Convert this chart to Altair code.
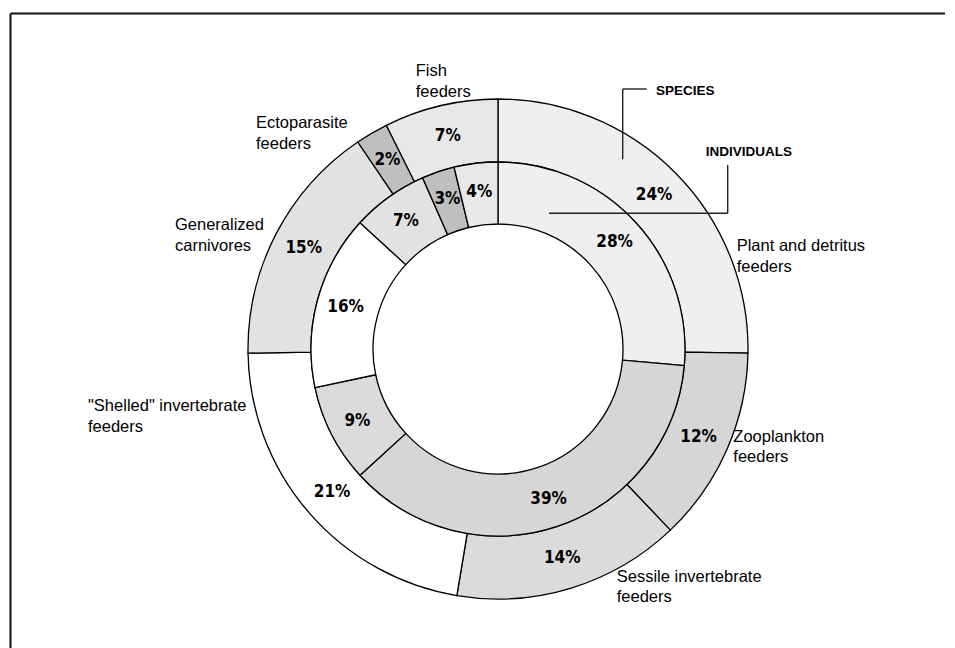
import altair as alt
import pandas as pd

# ---- data ----
categories = [
    "Plant and detritus feeders",
    "Zooplankton feeders",
    "Sessile invertebrate feeders",
    '"Shelled" invertebrate feeders',
    "Generalized carnivores",
    "Ectoparasite feeders",
    "Fish feeders",
]
species_pct = [24, 12, 14, 21, 15, 2, 7]        # outer ring
individuals_pct = [28, 39, 9, 16, 7, 3, 4]      # inner ring
label_lines = [
    ["Plant and detritus", "feeders"],
    ["Zooplankton", "feeders"],
    ["Sessile invertebrate", "feeders"],
    ['"Shelled" invertebrate', "feeders"],
    ["Generalized", "carnivores"],
    ["Ectoparasite", "feeders"],
    ["Fish", "feeders"],
]

# ---- styles ----
fills = ["#efefef", "#d6d6d6", "#dbdbdb", "#ffffff", "#e2e2e2", "#bfbfbf", "#e8e8e8"]
PCT_FONT = "DejaVu Sans Condensed, DejaVu Sans, sans-serif"
LAB_FONT = "Liberation Sans, Arial, sans-serif"
# category label anchor positions (plot coords), in the same order as categories
label_pos = [(628.7, 193), (625.3, 383.7), (508.7, 523.7), (-20, 353),
             (67, 172), (148, 70.3), (307.7, 18)]

df_s = pd.DataFrame({"cat": categories, "idx": list(range(len(categories))),
                     "v": species_pct, "lab": [f"{v}%" for v in species_pct]})
df_i = pd.DataFrame({"cat": categories, "idx": list(range(len(categories))),
                     "v": individuals_pct, "lab": [f"{v}%" for v in individuals_pct]})

fill_enc = alt.Fill("cat:N", scale=alt.Scale(domain=categories, range=fills), legend=None)


def ring(df, outer, inner, text_r):
    base = alt.Chart(df).encode(
        theta=alt.Theta("v:Q", stack="normalize"),
        order=alt.Order("idx:Q", sort="ascending"),
    )
    arc = base.mark_arc(outerRadius=outer, innerRadius=inner, stroke="black",
                        strokeWidth=1.3).encode(fill=fill_enc)
    txt = base.mark_text(radius=text_r, font=PCT_FONT, fontWeight="bold",
                         fontSize=17, color="black").encode(
        text="lab:N", detail="cat:N")
    return arc, txt


outer_arc, outer_txt = ring(df_s, 250, 187, 219)
inner_arc, inner_txt = ring(df_i, 187, 125, 158)

layers = [outer_arc, inner_arc, outer_txt, inner_txt]

# category labels
for lines, (x, y) in zip(label_lines, label_pos):
    layers.append(
        alt.Chart(df_s).mark_text(text=lines, align="left", baseline="alphabetic",
                                  font=LAB_FONT, fontSize=16.5, lineHeight=20.5,
                                  color="black")
        .encode(x=alt.value(x), y=alt.value(y))
        .transform_filter(alt.datum.idx == 0)
    )

# ring callouts
line_style = dict(color="#222222", strokeWidth=1.4)
one = alt.Chart(df_s).transform_filter(alt.datum.idx == 0)
layers += [
    one.mark_rule(**line_style).encode(x=alt.value(514.7), x2=alt.value(538.7), y=alt.value(31)),
    one.mark_rule(**line_style).encode(x=alt.value(514.7), y=alt.value(31), y2=alt.value(101.3)),
    one.mark_text(text="SPECIES", align="left", baseline="middle", font=LAB_FONT,
                  fontWeight="bold", fontSize=13.5, color="black")
       .encode(x=alt.value(548), y=alt.value(32.8)),
    one.mark_rule(**line_style).encode(x=alt.value(619.7), y=alt.value(107), y2=alt.value(155.3)),
    one.mark_rule(**line_style).encode(x=alt.value(441), x2=alt.value(619.7), y=alt.value(155.3)),
    one.mark_text(text="INDIVIDUALS", align="left", baseline="middle", font=LAB_FONT,
                  fontWeight="bold", fontSize=13.5, color="black")
       .encode(x=alt.value(597.7), y=alt.value(94.3)),
]

# frame (top and left edges)
frame = dict(color="#111111", strokeWidth=2)
layers += [
    one.mark_rule(**frame).encode(x=alt.value(-97.5), x2=alt.value(837), y=alt.value(-44.5)),
    one.mark_rule(**frame).encode(x=alt.value(-97.5), y=alt.value(-44.5), y2=alt.value(640)),
]

chart = alt.layer(*layers).properties(
    width=780, height=582,
    background="white",
    padding={"left": 100, "top": 50, "right": 59, "bottom": 8},
    autosize=alt.AutoSizeParams(type="none"),
).configure_view(strokeWidth=0, stroke="transparent")

chart.save("out.html", embed_options={"renderer": "svg", "actions": False})
